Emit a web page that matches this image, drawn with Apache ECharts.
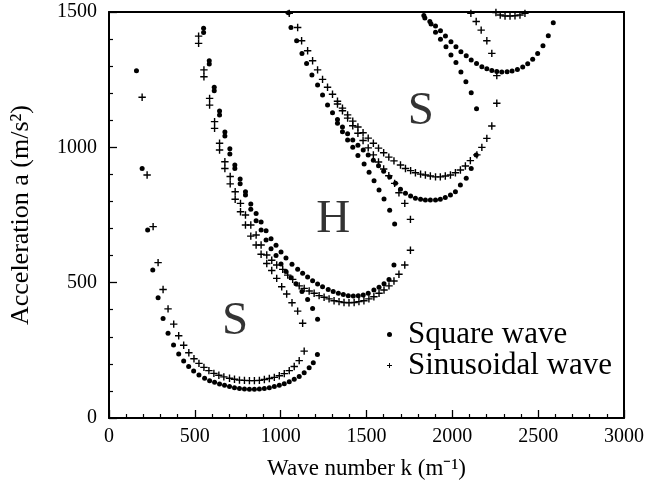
<!DOCTYPE html>
<html><head><meta charset="utf-8">
<script src="https://cdn.jsdelivr.net/npm/echarts@6/dist/echarts.min.js"></script>
<style>html,body{margin:0;padding:0;background:#fff}#c{width:647px;height:491px}</style>
</head><body><div id="c"></div>
<script>
// ---- data (wave number k, acceleration a) ----
const squareS1 = [[160,1283],[193,922],[225,695],[255,547],[286,444],[315,368],[344,313],[376,270],[406,236],[435,211],[464,190],[493,174],[524,159],[557,147],[586,138],[615,132],[644,126],[673,121],[702,116],[731,112],[760,109],[789,107],[818,106],[847,106],[876,107],[905,109],[934,112],[963,116],[992,121],[1021,127],[1050,134],[1079,143],[1108,153],[1137,167],[1166,186],[1190,204],[1214,235]];
const sineS1 = [[193,1185],[222,898],[257,707],[286,574],[315,475],[344,403],[377,347],[406,304],[435,269],[465,241],[495,219],[524,202],[553,187],[582,175],[611,165],[640,158],[669,152],[702,147],[731,143],[760,140],[789,139],[818,138],[847,138],[876,139],[905,142],[934,146],[963,150],[992,156],[1021,164],[1050,175],[1079,190],[1108,212],[1137,247]];
const squareHUpper = [[551,1424],[584,1308],[613,1209],[644,1119],[675,1042],[704,975],[733,922],[764,865],[795,824],[826,791],[857,756],[886,724],[915,692],[944,662],[973,638],[1002,613],[1031,591],[1066,568],[1099,550],[1128,535],[1157,521],[1186,507],[1215,495],[1244,485],[1277,475],[1306,467],[1336,461],[1365,456],[1394,452],[1423,451],[1452,452],[1481,454],[1510,461],[1543,473],[1573,483],[1602,496],[1631,512],[1660,565]];
const squareHLower = [[551,1440],[584,1320],[613,1222],[644,1134],[675,1057],[704,995],[733,935],[764,883],[795,836],[826,771],[857,729],[886,695],[915,658],[944,625],[973,600],[1002,569],[1031,541],[1060,518],[1089,496],[1124,467],[1157,438],[1186,405],[1215,365]];
const sineHUpper = [[522,1411],[553,1286],[586,1181],[615,1095],[644,1015],[675,947],[706,892],[735,836],[766,793],[795,750],[826,713],[857,676],[886,639],[919,602],[948,583],[977,565],[1012,549],[1041,528],[1070,512],[1108,488],[1137,479],[1166,469],[1195,461],[1224,452],[1253,446],[1282,440],[1311,433],[1340,430],[1369,427],[1398,426],[1428,427],[1456,430],[1485,433],[1514,440],[1543,448],[1573,461],[1602,473],[1631,488],[1660,506],[1689,531],[1723,565],[1756,620]];
const sineHLower = [[522,1384],[553,1261],[586,1156],[615,1070],[644,990],[675,922],[706,865],[735,808],[766,762],[795,713],[826,672],[857,639],[886,605],[919,571],[948,545],[977,516],[1006,485],[1035,458],[1066,426],[1099,395],[1128,350]];
const squareS2Upper = [[1045,1497],[1060,1443],[1093,1394],[1124,1347],[1151,1310],[1182,1267],[1215,1230],[1244,1193],[1273,1156],[1302,1128],[1331,1103],[1360,1075],[1390,1050],[1420,1027],[1450,1008],[1481,990],[1510,972],[1540,952],[1570,932],[1600,912],[1635,890],[1669,867],[1698,845],[1727,830],[1757,820],[1785,812],[1815,808],[1843,805],[1872,805],[1902,805],[1930,808],[1959,815],[1989,824],[2018,836],[2047,861],[2081,886],[2110,922],[2139,972]];
const squareS2Lower = [[1331,1089],[1360,1058],[1390,1027],[1420,1000],[1450,970],[1486,938],[1515,908],[1544,877],[1573,842],[1602,809],[1635,768],[1664,717]];
const sineS2Upper = [[1050,1495],[1099,1443],[1122,1394],[1157,1357],[1186,1320],[1215,1286],[1244,1251],[1273,1222],[1302,1196],[1331,1170],[1360,1145],[1390,1120],[1420,1097],[1450,1075],[1480,1054],[1510,1034],[1540,1015],[1570,997],[1600,980],[1630,964],[1660,950],[1698,935],[1727,922],[1757,914],[1785,906],[1815,901],[1843,898],[1872,894],[1902,891],[1930,891],[1959,894],[1989,898],[2018,906],[2047,916],[2076,931],[2105,951],[2143,972],[2172,1000],[2201,1033],[2230,1079],[2259,1163]];
const sineS2Lower = [[1331,1160],[1360,1135],[1390,1108],[1420,1080],[1450,1052],[1480,1025],[1510,998],[1540,972],[1570,946],[1600,920],[1630,895],[1664,867],[1689,832],[1723,793],[1756,734]];
const squareS3Upper = [[1834,1487],[1869,1465],[1902,1448],[1931,1431],[1960,1411],[1992,1390],[2021,1372],[2050,1353],[2081,1338],[2110,1323],[2141,1310],[2172,1298],[2201,1290],[2230,1284],[2259,1280],[2288,1278],[2319,1279],[2348,1282],[2379,1288],[2410,1297],[2439,1309],[2468,1325],[2497,1347],[2528,1375],[2559,1412],[2588,1460]];
const squareS3Lower = [[1840,1478],[1876,1456],[1902,1425],[1931,1399],[1963,1372],[1992,1341],[2021,1313],[2050,1278],[2079,1242],[2110,1202],[2141,1143]];
const sineS3Upper = [[2254,1498],[2279,1489],[2307,1485],[2336,1485],[2365,1486],[2394,1489],[2423,1495]];
const sineS3Lower = [[2108,1495],[2139,1465],[2168,1433],[2201,1394],[2230,1347],[2259,1265]];
const regionLabels = ['S','H','S'];
const regionK = [734,1306,1816];
const regionA = [356,733,1130];
const seriesNames = ['Square wave','Sinusoidal wave'];
const xTitle = 'Wave number k (m⁻¹)';
const yTitle = 'Acceleration a (m/s²)';

const squareAll = [].concat(squareS1, squareHUpper, squareHLower, squareS2Upper, squareS2Lower, squareS3Upper, squareS3Lower);
const sineAll = [].concat(sineS1, sineHUpper, sineHLower, sineS2Upper, sineS2Lower, sineS3Upper, sineS3Lower);
const regionData = regionLabels.map((t,i)=>[regionK[i], regionA[i], t]);

const FONT = 'Liberation Serif';
const plusPath = 'path://M3,0H4.4V3H7.4V4.4H4.4V7.4H3V4.4H0V3H3Z';
const chart = echarts.init(document.getElementById('c'), null, {renderer:'canvas'});
function mainAxis(extra){
  return Object.assign({
    axisLine:{show:true,onZero:false,lineStyle:{color:'#000',width:2}},
    axisTick:{show:true,inside:true,length:8,lineStyle:{color:'#000',width:1.3}},
    minorTick:{show:true,splitNumber:5,length:4,lineStyle:{color:'#000',width:1.2}},
    splitLine:{show:false},
    minorSplitLine:{show:false}
  }, extra);
}
function frameAxis(extra){
  return Object.assign({
    axisLine:{show:true,onZero:false,lineStyle:{color:'#000',width:2}},
    axisTick:{show:false},minorTick:{show:false},axisLabel:{show:false},splitLine:{show:false}
  }, extra);
}
chart.setOption({
  animation:false,
  backgroundColor:'#fff',
  grid:{left:109,right:21,top:12,bottom:73,show:false},
  legend:{
    orient:'vertical', left:387, top:319, padding:0, itemGap:0,
    itemWidth:5, itemHeight:5,
    textStyle:{fontFamily:FONT,fontSize:31,color:'#000',lineHeight:19,padding:[0,0,12,11]},
    data:[{name:seriesNames[0],icon:'circle'},{name:seriesNames[1],icon:plusPath}]
  },
  xAxis:[mainAxis({
    type:'value',min:0,max:3000,interval:500,position:'bottom',
    axisLabel:{fontFamily:FONT,fontSize:20,color:'#000',margin:9,formatter:v=>String(v)},
    name:xTitle,nameLocation:'middle',nameGap:39,
    nameTextStyle:{fontFamily:FONT,fontSize:23,color:'#000'}
  }), frameAxis({type:'value',min:0,max:3000,position:'top'})],
  yAxis:[mainAxis({
    type:'value',min:0,max:1500,interval:500,position:'left',
    axisLabel:{fontFamily:FONT,fontSize:20,color:'#000',margin:12,formatter:v=>String(v)},
    name:yTitle,nameLocation:'middle',nameGap:75,
    nameTextStyle:{fontFamily:FONT,fontSize:26,color:'#000'}
  }), frameAxis({type:'value',min:0,max:1500,position:'right'})],
  series:[
    {name:seriesNames[0],type:'scatter',data:squareAll,symbol:'circle',symbolSize:5,itemStyle:{color:'#000',opacity:1}},
    {name:seriesNames[1],type:'scatter',data:sineAll,symbol:plusPath,symbolSize:7.4,itemStyle:{color:'#000',opacity:1}},
    {name:'regions',type:'scatter',data:regionData,symbolSize:0,silent:true,
     label:{show:true,position:'inside',formatter:p=>p.value[2],fontFamily:FONT,fontSize:47,color:'#000'}}
  ]
});
</script></body></html>
